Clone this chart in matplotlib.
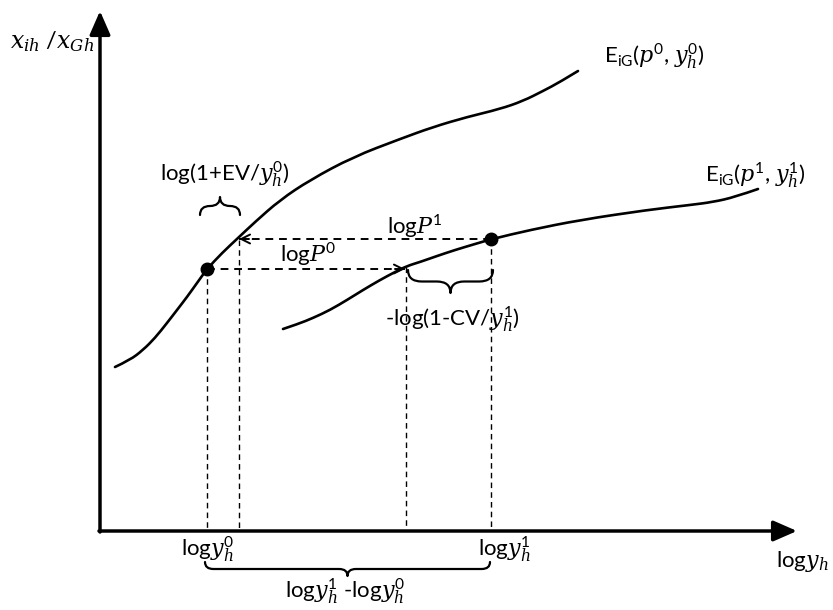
import numpy as np
import matplotlib
matplotlib.use("Agg")
import matplotlib.pyplot as plt
from matplotlib.path import Path
from matplotlib.patches import PathPatch

plt.rcParams['font.family'] = ['Lato', 'DejaVu Sans']
plt.rcParams['mathtext.fontset'] = 'custom'
plt.rcParams['mathtext.rm'] = 'Lato'
plt.rcParams['mathtext.it'] = 'DejaVu Serif:italic'
plt.rcParams['mathtext.bf'] = 'Lato:bold'

# diagram drawn in a 833 x 610 canvas, y pointing down
# demand curve at old prices / income  E_iG(p0, y0)
curve0_x = [115, 130, 143, 155, 167, 177, 187, 197, 207, 222, 238, 255, 280, 310,
            353, 400, 433, 467, 500, 523, 543, 560, 578]
curve0_y = [367, 360, 350, 338, 323, 310, 297, 283, 269, 253, 238, 222, 200, 180,
            157, 139, 127, 117, 109, 101, 91, 82, 71]
# demand curve at new prices / income  E_iG(p1, y1)
curve1_x = [283, 298, 313, 330, 347, 363, 380, 395, 407, 420, 437, 455, 475, 492,
            530, 580, 647, 690, 713, 735, 758]
curve1_y = [329, 324, 318, 310, 300, 290, 280, 272, 266, 262, 256, 250, 244, 239,
            230, 220, 210, 205, 202, 197, 189]

# points on the curves
dots_x = [207, 491]
dots_y = [269, 239]

# guide lines
vlines_x = [207, 239, 406, 491]
vlines_top = [269, 240, 267, 239]
axis_x0, axis_y0 = 100, 531
axis_x1, axis_y1 = 797, 11

labels = [
    (52, 42, r'$x_{ih}$ /$x_{Gh}$', 17),
    (654, 57, r'E$_{\mathrm{iG}}$($p^0$, $y_h^0$)', 16),
    (755, 176, r'E$_{\mathrm{iG}}$($p^1$, $y_h^1$)', 16),
    (225, 175, r'log(1+EV/$y_h^0$)', 16),
    (415, 226, r'log$P^1$', 16),
    (308, 254, r'log$P^0$', 16),
    (452, 320, r'-log(1-CV/$y_h^1$)', 16),
    (208, 550, r'log$y_h^0$', 16),
    (504, 550, r'log$y_h^1$', 16),
    (345, 592, r'log$y_h^1$ -log$y_h^0$', 16),
    (802, 562, r'log$y_h$', 16),
]

# braces: x0, x1, y at ends, y at tip
braces = [(200, 240, 215, 197), (408, 493, 270, 293), (205, 490, 562, 576)]


def brace(ax, x0, x1, yend, ytip, lw=1.6):
    xm = (x0 + x1) / 2
    ymid = (yend + ytip) / 2
    r = min(abs(ytip - yend) * 0.6, (x1 - x0) / 4)
    verts = [(x0, yend), (x0, ymid), (x0 + r, ymid),
             (xm - r, ymid),
             (xm, ymid), (xm, ytip),
             (xm, ymid), (xm + r, ymid),
             (x1 - r, ymid),
             (x1, ymid), (x1, yend)]
    codes = [Path.MOVETO, Path.CURVE3, Path.CURVE3,
             Path.LINETO,
             Path.CURVE3, Path.CURVE3,
             Path.CURVE3, Path.CURVE3,
             Path.LINETO,
             Path.CURVE3, Path.CURVE3]
    ax.add_patch(PathPatch(Path(verts, codes), fill=False, lw=lw, color='black',
                           capstyle='round', joinstyle='round'))


def smooth_curve(ax, xs, ys, lw=1.9):
    # quadratic bezier: given points are control points, midpoints are on the curve
    pts = list(zip(xs, ys))
    verts = [pts[0]]
    codes = [Path.MOVETO]
    for i in range(1, len(pts) - 1):
        mid = ((pts[i][0] + pts[i + 1][0]) / 2, (pts[i][1] + pts[i + 1][1]) / 2)
        if i == len(pts) - 2:
            mid = pts[-1]
        verts += [pts[i], mid]
        codes += [Path.CURVE3, Path.CURVE3]
    ax.add_patch(PathPatch(Path(verts, codes), fill=False, lw=lw, color='black',
                           capstyle='round', joinstyle='round'))


fig = plt.figure(figsize=(8.33, 6.10), dpi=100)
ax = fig.add_axes([0, 0, 1, 1])
ax.set_xlim(0, 833)
ax.set_ylim(610, 0)
ax.axis('off')

# axes with arrows
ax.annotate('', xy=(axis_x0, axis_y1), xytext=(axis_x0, axis_y0 + 1),
            arrowprops=dict(arrowstyle='-|>,head_length=0.8,head_width=0.35',
                            lw=2.5, color='black', shrinkA=0, shrinkB=0,
                            mutation_scale=18))
ax.annotate('', xy=(axis_x1, axis_y0), xytext=(axis_x0 - 1, axis_y0),
            arrowprops=dict(arrowstyle='-|>,head_length=0.8,head_width=0.35',
                            lw=2.5, color='black', shrinkA=0, shrinkB=0,
                            mutation_scale=18))

# curves
smooth_curve(ax, curve0_x, curve0_y)
smooth_curve(ax, curve1_x, curve1_y)

# vertical dashed guides
for vx, vt in zip(vlines_x, vlines_top):
    ax.plot([vx, vx], [vt, axis_y0], color='black', lw=1.0, ls=(0, (4, 3)))

# horizontal dashed arrows
ax.plot([dots_x[0], 405], [dots_y[0], dots_y[0]], color='black', lw=1.4, ls=(0, (4, 3)))
ax.annotate('', xy=(405, dots_y[0]), xytext=(395, dots_y[0]),
            arrowprops=dict(arrowstyle='->', lw=1.4, color='black',
                            shrinkA=0, shrinkB=0, mutation_scale=16))
ax.plot([dots_x[1], 239], [dots_y[1], dots_y[1]], color='black', lw=1.4, ls=(0, (4, 3)))
ax.annotate('', xy=(239, dots_y[1]), xytext=(249, dots_y[1]),
            arrowprops=dict(arrowstyle='->', lw=1.4, color='black',
                            shrinkA=0, shrinkB=0, mutation_scale=16))

# dots
ax.plot(dots_x, dots_y, 'o', color='black', markersize=9, zorder=5)

for b in braces:
    brace(ax, *b)

for x, y, s, fs in labels:
    ax.text(x, y, s, fontsize=fs, ha='center', va='center')

fig.savefig('out.png', dpi=100)
